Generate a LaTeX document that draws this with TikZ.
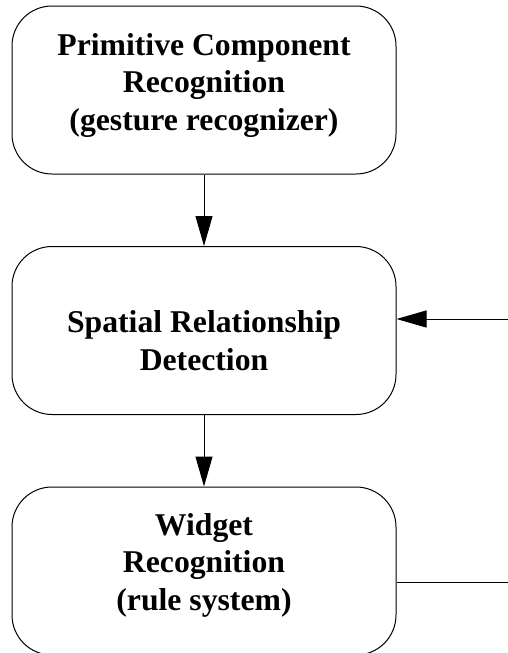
\documentclass[tikz,border=0pt]{standalone}
\usepackage{fontspec}
\setmainfont{Liberation Serif}
\usetikzlibrary{arrows.meta}
\begin{document}
\begin{tikzpicture}[x=1pt,y=-1pt,
  stagebox/.style={draw=black, line width=1pt, rounded corners=40pt,
    minimum width=384pt, minimum height=168pt, inner sep=0pt},
  stagetext/.style={align=center, inner sep=0pt,
    font=\fontsize{31.7}{37.3}\selectfont\bfseries},
  flow/.style={draw=black, line width=1pt, -{Triangle[length=30pt,width=17pt]}},
  plain/.style={draw=black, line width=1pt}]
\useasboundingbox (0,0) rectangle (508,653);
\node[stagebox] (b1) at (204,90) {};
\node[stagebox] (b2) at (204,330.5) {};
\node[stagebox] (b3) at (204,571) {};
\node[stagetext, anchor=base] (t1) at (204,130) {Primitive Component\\Recognition\\(gesture recognizer)};
\node[stagetext, anchor=base] (t2) at (204,370) {Spatial Relationship\\Detection};
\node[stagetext, anchor=base] (t3) at (204,610) {Widget\\Recognition\\(rule system)};
\coordinate (inpt) at (508,319);
\coordinate (outpt) at (508,582);
\draw[flow] (b1.south) -- (b2.north);
\draw[flow] (b2.south) -- (b3.north);
\draw[flow] (inpt) -- (inpt -| b2.east);
\draw[plain] (outpt -| b3.east) -- (outpt);
\end{tikzpicture}
\end{document}
